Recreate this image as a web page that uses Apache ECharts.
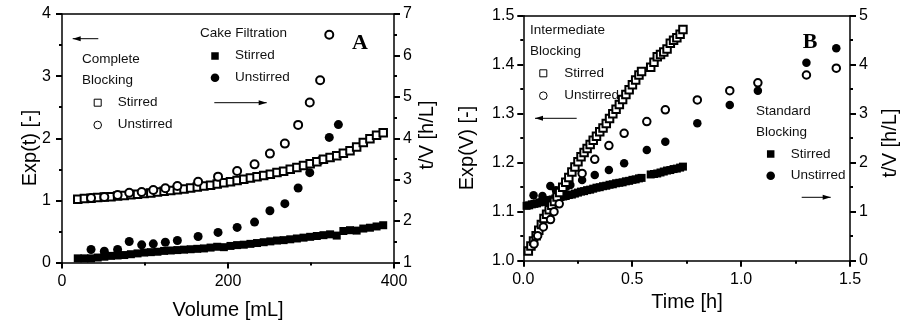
<!DOCTYPE html>
<html><head><meta charset="utf-8">
<script src="https://cdn.jsdelivr.net/npm/echarts@6/dist/echarts.min.js"></script>
<style>html,body{margin:0;padding:0;background:#fff}#c{width:910px;height:325px}</style>
</head><body><div id="c"></div>
<script>
// ---------- Panel A data ----------
var volSq = [19,27,35,43,51,59,67,75,83,91,99,107,115,123,131,139,147,155,163,171,179,187,195,203,211,219,227,235,243,251,259,267,275,283,291,299,307,315,323,331,339,347,355,363,371,379,387];
var cbStirred = [1.02,1.03,1.035,1.045,1.055,1.06,1.07,1.08,1.09,1.10,1.11,1.12,1.135,1.145,1.16,1.17,1.185,1.20,1.215,1.23,1.245,1.265,1.285,1.30,1.32,1.34,1.36,1.38,1.40,1.42,1.45,1.47,1.50,1.53,1.56,1.59,1.62,1.66,1.69,1.72,1.76,1.80,1.86,1.93,1.99,2.05,2.09];
var cfStirred = [1.10,1.10,1.10,1.12,1.14,1.16,1.17,1.18,1.20,1.22,1.24,1.25,1.26,1.28,1.29,1.30,1.31,1.32,1.33,1.34,1.36,1.38,1.37,1.40,1.42,1.43,1.45,1.47,1.49,1.51,1.53,1.54,1.56,1.58,1.60,1.62,1.64,1.66,1.68,1.65,1.76,1.78,1.77,1.82,1.84,1.87,1.90];
var volCir = [35,51,67,81,96,110,124.5,139,164,188,211,232,250.5,268.5,284.5,298.5,311,322,333];
var cbUnstirred = [1.037,1.053,1.086,1.124,1.134,1.166,1.194,1.231,1.30,1.382,1.473,1.58,1.753,1.914,2.215,2.576,2.935,3.666];
var cfUnstirred = [1.315,1.274,1.315,1.508,1.427,1.45,1.49,1.532,1.629,1.726,1.847,1.976,2.25,2.42,2.80,3.17,3.46,4.02,4.33];

// ---------- Panel B data ----------
var tIbSq = [0.023,0.035,0.047,0.059,0.071,0.083,0.095,0.107,0.119,0.131,0.143,0.155,0.167,0.181,0.195,0.209,0.223,0.237,0.251,0.265,0.279,0.293,0.307,0.321,0.336,0.351,0.366,0.381,0.396,0.411,0.426,0.441,0.456,0.471,0.486,0.501,0.516,0.531,0.543,0.585,0.600,0.615,0.630,0.645,0.660,0.675,0.690,0.705,0.720,0.733];
var ibStirred = [1.020,1.030,1.040,1.051,1.062,1.074,1.086,1.095,1.104,1.113,1.121,1.130,1.139,1.150,1.160,1.170,1.181,1.191,1.202,1.212,1.221,1.229,1.237,1.246,1.254,1.263,1.271,1.280,1.290,1.300,1.309,1.319,1.329,1.339,1.349,1.359,1.369,1.379,1.386,1.395,1.405,1.416,1.421,1.426,1.432,1.444,1.450,1.455,1.462,1.472];
var tSbSq = [0.015,0.027,0.039,0.051,0.063,0.075,0.087,0.099,0.111,0.123,0.135,0.147,0.159,0.171,0.183,0.195,0.209,0.223,0.237,0.251,0.265,0.279,0.293,0.307,0.321,0.336,0.351,0.366,0.381,0.396,0.411,0.426,0.441,0.456,0.471,0.486,0.501,0.516,0.531,0.543,0.585,0.600,0.615,0.630,0.645,0.660,0.675,0.690,0.705,0.720,0.733];
var sbStirred = [1.12,1.13,1.15,1.16,1.17,1.19,1.20,1.21,1.23,1.24,1.25,1.27,1.28,1.30,1.31,1.32,1.34,1.35,1.37,1.39,1.41,1.42,1.44,1.45,1.47,1.49,1.50,1.52,1.53,1.55,1.56,1.58,1.59,1.60,1.62,1.63,1.65,1.66,1.68,1.69,1.76,1.77,1.78,1.80,1.82,1.84,1.85,1.87,1.88,1.90,1.92];
var tIbCir = [0.049,0.066,0.092,0.125,0.141,0.165,0.27,0.328,0.393,0.463,0.567,0.652,0.799,0.948,1.077,1.30,1.437];
var ibUnstirred = [1.034,1.051,1.069,1.084,1.10,1.116,1.178,1.207,1.235,1.26,1.284,1.308,1.328,1.347,1.363,1.379,1.393];
var tSbCir = [0.047,0.088,0.124,0.150,0.176,0.198,0.216,0.27,0.328,0.393,0.463,0.567,0.652,0.799,0.948,1.077,1.30,1.437];
var sbUnstirred = [1.334,1.322,1.524,1.436,1.477,1.51,1.545,1.647,1.749,1.851,1.987,2.259,2.429,2.803,3.177,3.47,4.041,4.334];

function pairs(xs, ys){ return ys.map(function(y,i){ return [xs[i], y]; }); }

var FONT = '"Liberation Sans", Arial, sans-serif';
function mkAxis(o){
  var a = {
    type:'value',
    axisLine: {show:true, onZero:false, lineStyle:{color:'#000', width:1.5}},
    axisTick: {show:true, inside:false, length:6, lineStyle:{color:'#000', width:2}},
    minorTick: {show:true, splitNumber:2, length:3, lineStyle:{color:'#000', width:2}},
    splitLine: {show:false},
    axisLabel: {color:'#000', fontFamily:FONT, fontSize:16}
  };
  return Object.assign(a, o);
}
function borderAxis(grid, mn, mx){
  return {type:'value', gridIndex:grid, position:'top', min:mn, max:mx,
    axisLine:{show:true, onZero:false, lineStyle:{color:'#000', width:1.5}},
    axisTick:{show:false}, minorTick:{show:false}, axisLabel:{show:false}, splitLine:{show:false}};
}

var chart = echarts.init(document.getElementById('c'), null, {renderer:'canvas'});

function sym(type, filled, size){
  return {
    type:'scatter', symbol:type, symbolSize: size,
    itemStyle: filled ? {color:'#000', borderWidth:0, opacity:1} : {color:'#000', borderColor:'#000', borderWidth:1, opacity:1},
    emphasis:{disabled:true}, silent:true, animation:false
  };
}

function txt(x, y, s){
  return {type:'text', x:x, y:y, silent:true,
    style:{text:s, font:'13.5px ' + FONT, fill:'#111', textVerticalAlign:'middle', textAlign:'left'}};
}
function rect(cx, cy, filled){
  var s = filled ? 7.5 : 7;
  return {type:'rect', silent:true, shape:{x:cx-s/2, y:cy-s/2, width:s, height:s},
    style: filled ? {fill:'#000'} : {fill:'#fff', stroke:'#000', lineWidth:1}};
}
function circ(cx, cy, filled){
  return {type:'circle', silent:true, shape:{cx:cx, cy:cy, r: filled ? 4.3 : 3.8},
    style: filled ? {fill:'#000'} : {fill:'#fff', stroke:'#000', lineWidth:1}};
}
function arrow(x1, x2, y, headLeft){
  var hx = headLeft ? Math.min(x1,x2) : Math.max(x1,x2);
  var d = headLeft ? 8 : -8;
  return [
    {type:'line', silent:true, shape:{x1:x1, y1:y, x2:x2, y2:y}, style:{stroke:'#000', lineWidth:1}},
    {type:'polygon', silent:true, shape:{points:[[hx,y],[hx+d,y-2.5],[hx+d,y+2.5]]}, style:{fill:'#000'}}
  ];
}

var titleFont = '20px ' + FONT;
function title(x, y, s, rot){
  var g = {type:'text', x:x, y:y, silent:true, style:{text:s, font:titleFont, fill:'#000', textAlign:'center', textVerticalAlign:'middle'}};
  if (rot) g.rotation = Math.PI/2;
  return g;
}
var graphics = [
  title(30, 148, 'Exp(t) [-]', true),
  title(427, 135, 't/V [h/L]', true),
  title(228, 310, 'Volume [mL]'),
  title(467, 148, 'Exp(V) [-]', true),
  title(890, 143, 't/V [h/L]', true),
  title(687, 302, 'Time [h]'),
  {type:'text', x:360, y:43, silent:true, style:{text:'A', font:'bold 22px "Liberation Serif", "Times New Roman", serif', fill:'#000', textAlign:'center', textVerticalAlign:'middle'}},
  {type:'text', x:810, y:42, silent:true, style:{text:'B', font:'bold 22px "Liberation Serif", "Times New Roman", serif', fill:'#000', textAlign:'center', textVerticalAlign:'middle'}},
  txt(82, 59, 'Complete'), txt(82, 80, 'Blocking'),
  rect(97.7, 102.7, false), txt(117.7, 102, 'Stirred'),
  circ(97.7, 125, false), txt(117.7, 124, 'Unstirred'),
  txt(200, 33, 'Cake Filtration'),
  rect(215, 56, true), txt(235, 55, 'Stirred'),
  circ(215, 77.7, true), txt(235, 77, 'Unstirred'),
  txt(530, 30, 'Intermediate'), txt(530, 51.3, 'Blocking'),
  rect(543.3, 73.3, false), txt(564.3, 73, 'Stirred'),
  circ(543.3, 95.7, false), txt(564.3, 95, 'Unstirred'),
  txt(756, 111, 'Standard'), txt(756, 132, 'Blocking'),
  rect(770.7, 154, true), txt(790.7, 154, 'Stirred'),
  circ(770.7, 175.7, true), txt(790.7, 175, 'Unstirred')
].concat(arrow(72.7, 98.3, 38.7, true))
 .concat(arrow(214.3, 266.7, 102.7, false))
 .concat(arrow(535, 576.7, 118.3, true))
 .concat(arrow(801.7, 830.7, 197.3, false));

var fmt1 = function(v){ return v.toFixed(1); };
var option = {
  backgroundColor:'#fff',
  animation:false,
  grid:[
    {left:62, top:14, width:332, height:248.5},
    {left:523.3, top:15.7, width:326.7, height:245}
  ],
  xAxis:[
    mkAxis({gridIndex:0, position:'bottom', min:0, max:400, interval:200, axisLabel:{color:'#000', fontFamily:FONT, fontSize:16, margin:11}}),
    mkAxis({gridIndex:1, position:'bottom', min:0, max:1.5, interval:0.5, axisLabel:{color:'#000', fontFamily:FONT, fontSize:16, margin:11, formatter:fmt1}}),
    borderAxis(0, 0, 400),
    borderAxis(1, 0, 1.5)
  ],
  yAxis:[
    mkAxis({gridIndex:0, position:'left', min:0, max:4, interval:1, axisLabel:{color:'#000', fontFamily:FONT, fontSize:16, margin:11}}),
    mkAxis({gridIndex:0, position:'right', min:1, max:7, interval:1, axisLabel:{color:'#000', fontFamily:FONT, fontSize:16, margin:9}}),
    mkAxis({gridIndex:1, position:'left', min:1.0, max:1.5, interval:0.1, axisLabel:{color:'#000', fontFamily:FONT, fontSize:16, margin:9, formatter:fmt1}}),
    mkAxis({gridIndex:1, position:'right', min:0, max:5, interval:1, axisLabel:{color:'#000', fontFamily:FONT, fontSize:16, margin:9}})
  ],
  series:[
    Object.assign(sym('rect', true, 8), {name:'Cake Filtration Stirred', xAxisIndex:0, yAxisIndex:1, data:pairs(volSq, cfStirred)}),
    Object.assign(sym('circle', true, 9), {name:'Cake Filtration Unstirred', xAxisIndex:0, yAxisIndex:1, data:pairs(volCir, cfUnstirred)}),
    Object.assign(sym('emptyRect', false, 7.5), {name:'Complete Blocking Stirred', xAxisIndex:0, yAxisIndex:0, data:pairs(volSq, cbStirred)}),
    Object.assign(sym('emptyCircle', false, 8), {name:'Complete Blocking Unstirred', xAxisIndex:0, yAxisIndex:0, data:pairs(volCir, cbUnstirred)}),
    Object.assign(sym('rect', true, 8), {name:'Standard Blocking Stirred', xAxisIndex:1, yAxisIndex:3, data:pairs(tSbSq, sbStirred)}),
    Object.assign(sym('circle', true, 8.5), {name:'Standard Blocking Unstirred', xAxisIndex:1, yAxisIndex:3, data:pairs(tSbCir, sbUnstirred)}),
    Object.assign(sym('emptyRect', false, 7.5), {name:'Intermediate Blocking Stirred', xAxisIndex:1, yAxisIndex:2, data:pairs(tIbSq, ibStirred)}),
    Object.assign(sym('emptyCircle', false, 7.5), {name:'Intermediate Blocking Unstirred', xAxisIndex:1, yAxisIndex:2, data:pairs(tIbCir, ibUnstirred)})
  ],
  graphic: graphics
};
chart.setOption(option);
</script>
</body></html>
